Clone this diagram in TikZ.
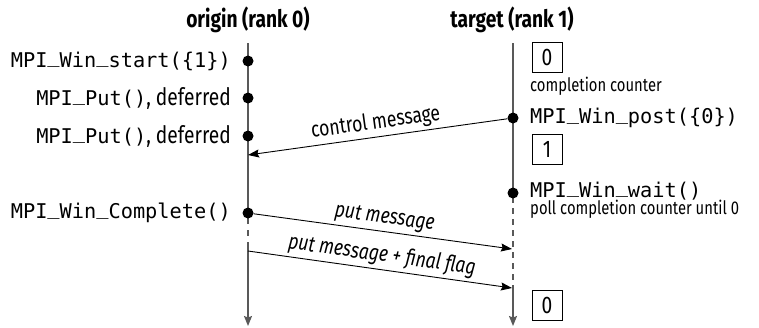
\documentclass[tikz,border=0pt]{standalone}
\usepackage{fontspec}
\setmainfont{Fira Sans}[FakeStretch=0.8]
\setmonofont{DejaVu Sans Mono}
\usetikzlibrary{arrows.meta}
% underscore sitting on the baseline, as in the call names
\newcommand{\usc}{\raisebox{0.2em}{\_}}

\begin{document}
\begin{tikzpicture}[x=1pt, y=-1pt,
  lifeline/.style={draw=black!65, line width=1.4pt},
  lifeend/.style={-{Stealth[length=10pt, width=8pt, inset=1.5pt]}},
  msg/.style={draw=black, line width=0.9pt, -{Stealth[length=11pt, width=8pt, inset=1.5pt]}},
  msgback/.style={draw=black, line width=0.9pt, {Stealth[length=11pt, width=8pt, inset=1.5pt]}-},
  event/.style={circle, fill=black, inner sep=0pt, minimum size=11pt},
  counter/.style={draw, line width=0.9pt, minimum size=30pt, inner sep=0pt,
    font=\fontsize{24}{25}\selectfont},
  call/.style={inner sep=0pt, font=\fontsize{20.3}{21}\selectfont\ttfamily},
  putcall/.style={inner sep=0pt, font=\fontsize{24}{25}\selectfont},
  heading/.style={font=\fontsize{24}{26}\selectfont\bfseries},
  note/.style={inner sep=0pt, font=\fontsize{18.5}{19}\selectfont},
  msglabel/.style={inner sep=3pt, font=\fontsize{22}{23}\selectfont},
  datalabel/.style={inner sep=3pt, font=\fontsize{22}{23}\selectfont\itshape},
]
\useasboundingbox (0,0) rectangle (759,327);

% process headings
\node[heading] (origin) at (248,20) {origin (rank 0)};
\node[heading] (target) at (512,20) {target (rank 1)};

% lifeline end points
\coordinate (o-top) at (248,43);
\coordinate (o-gap1) at (248,218);
\coordinate (o-gap2) at (248,245);
\coordinate (o-bot) at (248,326);
\coordinate (t-top) at (513,43);
\coordinate (t-gap1) at (513,197);
\coordinate (t-gap2) at (513,288);
\coordinate (t-bot) at (513,326);

% origin lifeline
\draw[lifeline] (o-top) -- (o-gap1);
\draw[lifeline, dash pattern=on 6pt off 6pt] (o-gap1) -- (o-gap2);
\draw[lifeline, lifeend] (o-gap2) -- (o-bot);

% target lifeline
\draw[lifeline] (t-top) -- (t-gap1);
\draw[lifeline, dash pattern=on 6pt off 5pt] (t-gap1) -- (t-gap2);
\draw[lifeline, lifeend] (t-gap2) -- (t-bot);

% events on the origin
\node[event] (start) at (248,61) {};
\node[event] (put1) at (248,98) {};
\node[event] (put2) at (248,136) {};
\node[event] (complete) at (248,213) {};

% events on the target
\node[event] (post) at (513,118) {};
\node[event] (wait) at (513,193) {};

% origin calls
\node[call, anchor=east] (l-start) at (231,61) {MPI\usc Win\usc start(\{1\})};
\node[putcall, anchor=east] (l-put1) at (231,98) {{\fontsize{20.3}{21}\selectfont\ttfamily MPI\usc Put()}, deferred};
\node[putcall, anchor=east] (l-put2) at (231,136) {{\fontsize{20.3}{21}\selectfont\ttfamily MPI\usc Put()}, deferred};
\node[call, anchor=east] (l-complete) at (231,213) {MPI\usc Win\usc Complete()};

% target calls and counter states
\node[counter] (cnt0) at (547,57.5) {0};
\node[note, anchor=west] (cnt-label) at (530,86) {completion counter};
\node[call, anchor=west] (l-post) at (530,118) {MPI\usc Win\usc post(\{0\})};
\node[counter] (cnt1) at (547,149) {1};
\node[call, anchor=base west, text depth=0pt] (l-wait) at (530,197) {MPI\usc Win\usc wait()};
\node[note, anchor=base west] (l-poll) at (530,214.5) {poll completion counter until 0};
\node[counter] (cnt2) at (547,305.5) {0};

% messages
\coordinate (ctrl-end) at (248,155);
\coordinate (put-end) at (512,249);
\coordinate (final-start) at (248,251);
\coordinate (final-end) at (512,288);

\draw[msgback] (ctrl-end) -- node[msglabel, above, sloped] {control message} (post);
\draw[msg] (complete) -- node[datalabel, above, sloped] {put message} (put-end);
\draw[msg] (final-start) -- node[datalabel, above, sloped] {put message + final flag} (final-end);
\end{tikzpicture}
\end{document}
